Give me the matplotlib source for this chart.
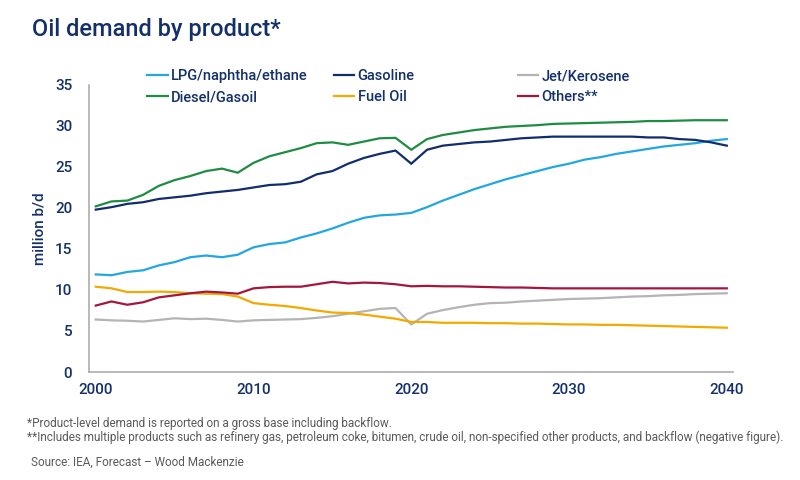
import matplotlib
matplotlib.use("Agg")
import matplotlib.pyplot as plt

plt.rcParams["font.family"] = ["Roboto", "DejaVu Sans"]

NAVY = "#14306b"
GREY_TXT = "#5a5a5a"

years = list(range(2000, 2041))

lpg = [11.9, 11.8, 12.2, 12.4, 13.0, 13.4, 14.0, 14.2, 14.0, 14.3,
       15.2, 15.6, 15.8, 16.4, 16.9, 17.5, 18.2, 18.8, 19.1, 19.2,
       19.4, 20.1, 20.9, 21.6, 22.3, 22.9, 23.5, 24.0, 24.5, 25.0,
       25.4, 25.9, 26.2, 26.6, 26.9, 27.2, 27.5, 27.7, 27.9, 28.2, 28.4]
gasoline = [19.8, 20.1, 20.5, 20.7, 21.1, 21.3, 21.5, 21.8, 22.0, 22.2,
            22.5, 22.8, 22.9, 23.2, 24.1, 24.5, 25.4, 26.1, 26.6, 27.0,
            25.4, 27.1, 27.6, 27.8, 28.0, 28.1, 28.3, 28.5, 28.6, 28.7,
            28.7, 28.7, 28.7, 28.7, 28.7, 28.6, 28.6, 28.4, 28.3, 28.0, 27.6]
jet = [6.4, 6.3, 6.25, 6.15, 6.35, 6.55, 6.45, 6.5, 6.35, 6.15,
       6.3, 6.35, 6.4, 6.45, 6.6, 6.8, 7.1, 7.4, 7.7, 7.8,
       5.8, 7.1, 7.55, 7.9, 8.2, 8.4, 8.45, 8.6, 8.7, 8.8,
       8.9, 8.95, 9.0, 9.1, 9.2, 9.25, 9.35, 9.4, 9.5, 9.55, 9.6]
diesel = [20.2, 20.8, 20.9, 21.6, 22.7, 23.4, 23.9, 24.5, 24.8, 24.3,
          25.5, 26.3, 26.8, 27.3, 27.9, 28.0, 27.7, 28.1, 28.5, 28.55,
          27.1, 28.4, 28.9, 29.2, 29.5, 29.7, 29.9, 30.0, 30.1, 30.25,
          30.3, 30.35, 30.4, 30.45, 30.5, 30.6, 30.6, 30.65, 30.7, 30.7, 30.7]
fuel_oil = [10.4, 10.2, 9.75, 9.75, 9.8, 9.75, 9.6, 9.55, 9.5, 9.2,
            8.4, 8.2, 8.05, 7.8, 7.5, 7.25, 7.2, 7.0, 6.75, 6.5,
            6.1, 6.1, 6.0, 6.0, 6.0, 5.95, 5.95, 5.9, 5.9, 5.85,
            5.8, 5.8, 5.75, 5.75, 5.7, 5.65, 5.6, 5.55, 5.5, 5.45, 5.4]
others = [8.1, 8.6, 8.2, 8.5, 9.1, 9.35, 9.6, 9.8, 9.7, 9.55,
          10.2, 10.35, 10.4, 10.4, 10.7, 11.0, 10.8, 10.9, 10.85, 10.7,
          10.45, 10.5, 10.45, 10.45, 10.4, 10.35, 10.3, 10.3, 10.25, 10.2,
          10.2, 10.2, 10.2, 10.2, 10.2, 10.2, 10.2, 10.2, 10.2, 10.2, 10.2]

series = [
    ("LPG/naphtha/ethane", lpg, "#22a7e0"),
    ("Gasoline", gasoline, "#112d6e"),
    ("Jet/Kerosene", jet, "#b4b4b4"),
    ("Diesel/Gasoil", diesel, "#1f8c43"),
    ("Fuel Oil", fuel_oil, "#f2a900"),
    ("Others**", others, "#a3173d"),
]

y_ticks = [0, 5, 10, 15, 20, 25, 30, 35]
x_ticks = [2000, 2010, 2020, 2030, 2040]

fig = plt.figure(figsize=(8, 4.8), dpi=100)
ax = fig.add_axes([0.111, 0.225, 0.805, 0.598])

lines = {}
for name, vals, col in series:
    (ln,) = ax.plot(years, vals, color=col, lw=1.6, label=name,
                    solid_joinstyle="miter")
    lines[name] = ln

ax.set_xlim(1999.56, 2040.38)
ax.set_ylim(0, 35)
ax.set_yticks(y_ticks)
ax.set_xticks(x_ticks)
ax.tick_params(length=0, labelsize=11, labelcolor=NAVY)
ax.tick_params(axis="y", pad=12)
ax.tick_params(axis="x", pad=8)
for lab in ax.get_xticklabels() + ax.get_yticklabels():
    lab.set_fontweight("medium")
for sp in ("top", "right"):
    ax.spines[sp].set_visible(False)
for sp in ("left", "bottom"):
    ax.spines[sp].set_color("#a6a6a6")
    ax.spines[sp].set_linewidth(1.1)
ax.set_ylabel("million b/d", fontsize=11, color=NAVY, labelpad=6,
              fontweight="medium")

# legend in three fixed columns
groups = [
    (["LPG/naphtha/ethane", "Diesel/Gasoil"], 0.184),
    (["Gasoline", "Fuel Oil"], 0.417),
    (["Jet/Kerosene", "Others**"], 0.647),
]
for names, xpos in groups:
    leg = fig.legend([lines[n] for n in names], names,
                     loc="upper left", bbox_to_anchor=(xpos, 0.856),
                     frameon=False, fontsize=10.5, handlelength=1.4,
                     handletextpad=0.25, borderpad=0, borderaxespad=0,
                     labelspacing=0.5)
    for t in leg.get_texts():
        t.set_color(NAVY)
        t.set_fontweight("medium")

fig.text(0.040, 0.925, "Oil demand by product*", fontsize=17,
         color=NAVY, fontweight="medium", va="baseline")

fig.text(0.034, 0.117, "*Product-level demand is reported on a gross base including backflow.",
         fontsize=8.45, color=GREY_TXT, va="center")
fig.text(0.034, 0.088,
         "**Includes multiple products such as refinery gas, petroleum coke, bitumen, crude oil, "
         "non-specified other products, and backflow (negative figure).",
         fontsize=8.45, color=GREY_TXT, va="center")
fig.text(0.039, 0.036, "Source: IEA, Forecast \u2013 Wood Mackenzie",
         fontsize=8.45, color=GREY_TXT, va="center")

fig.savefig("out.png", dpi=100, facecolor="white")
